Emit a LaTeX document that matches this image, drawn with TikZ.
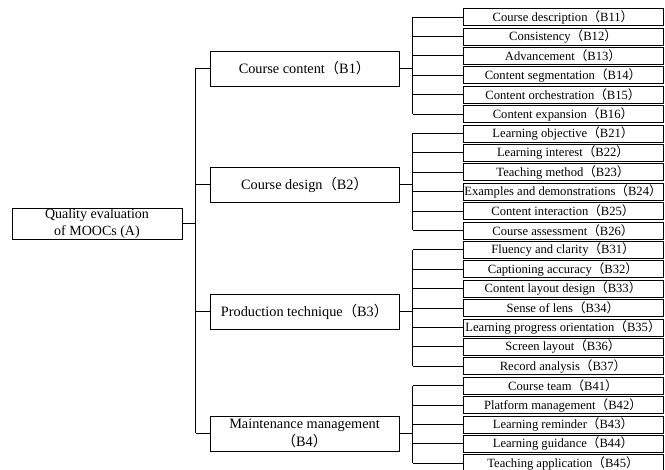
\documentclass[tikz,border=0pt]{standalone}
\usepackage{fontspec}
\setmainfont{Liberation Serif}
\newfontfamily\cjkfont{Noto Sans CJK SC}
\newcommand{\fwp}[1]{{\cjkfont （}#1{\cjkfont ）}}

\begin{document}
\begin{tikzpicture}[
    x=1pt, y=-1pt,
    every node/.style={draw, inner sep=1pt, line width=0.6pt},
    rootbox/.style={minimum width=170pt, minimum height=31pt, align=center,
        font=\fontsize{14}{16.5}\selectfont},
    groupbox/.style={minimum width=189pt, minimum height=35pt, align=center,
        font=\fontsize{14.3}{17.5}\selectfont},
    leafbox/.style={minimum width=200pt, minimum height=17pt,
        font=\fontsize{12.6}{13}\selectfont},
    link/.style={draw, line width=0.6pt}
]
\useasboundingbox (0,0) rectangle (665,470);

\node[rootbox] (a) at (97,223.5) {Quality evaluation\\of MOOCs (A)};

\node[groupbox] (b1) at (304.5,68.5) {Course content\fwp{B1}};
\node[groupbox] (b2) at (304.5,184.5) {Course design\fwp{B2}};
\node[groupbox] (b3) at (304.5,311.5) {Production technique\fwp{B3}};
\node[groupbox] (b4) at (304.5,433.5) {Maintenance management\\\fwp{B4}};

% indicators
\foreach \code/\txt [count=\i from 0] in {
    11/Course description, 12/Consistency, 13/Advancement,
    14/Content segmentation, 15/Content orchestration, 16/Content expansion,
    21/Learning objective, 22/Learning interest, 23/Teaching method,
    24/Examples and demonstrations, 25/Content interaction, 26/Course assessment,
    31/Fluency and clarity, 32/Captioning accuracy, 33/Content layout design,
    34/Sense of lens, 35/Learning progress orientation, 36/Screen layout,
    37/Record analysis,
    41/Course team, 42/Platform management, 43/Learning reminder,
    44/Learning guidance, 45/Teaching application}
{
    \node[leafbox] (b\code) at (563,{17+19.4*\i}) {\txt\fwp{B\code}};
    \draw[link] (b\code.west) -- ++(-50,0);
}

% trunk
\draw[link] (a.east) -- ++(14,0);
\draw[link] ([xshift=-14pt]b1.west) -- ([xshift=-14pt]b4.west);
\foreach \g in {1,...,4}
    \draw[link] (b\g.west) -- ++(-14,0);

% combs
\foreach \g/\first/\last in {1/11/16, 2/21/26, 3/31/37, 4/41/45} {
    \draw[link] (b\g.east) -- ++(14,0);
    \draw[link] ([xshift=-50pt]b\first.west) -- ([xshift=-50pt]b\last.west);
}
\end{tikzpicture}
\end{document}
